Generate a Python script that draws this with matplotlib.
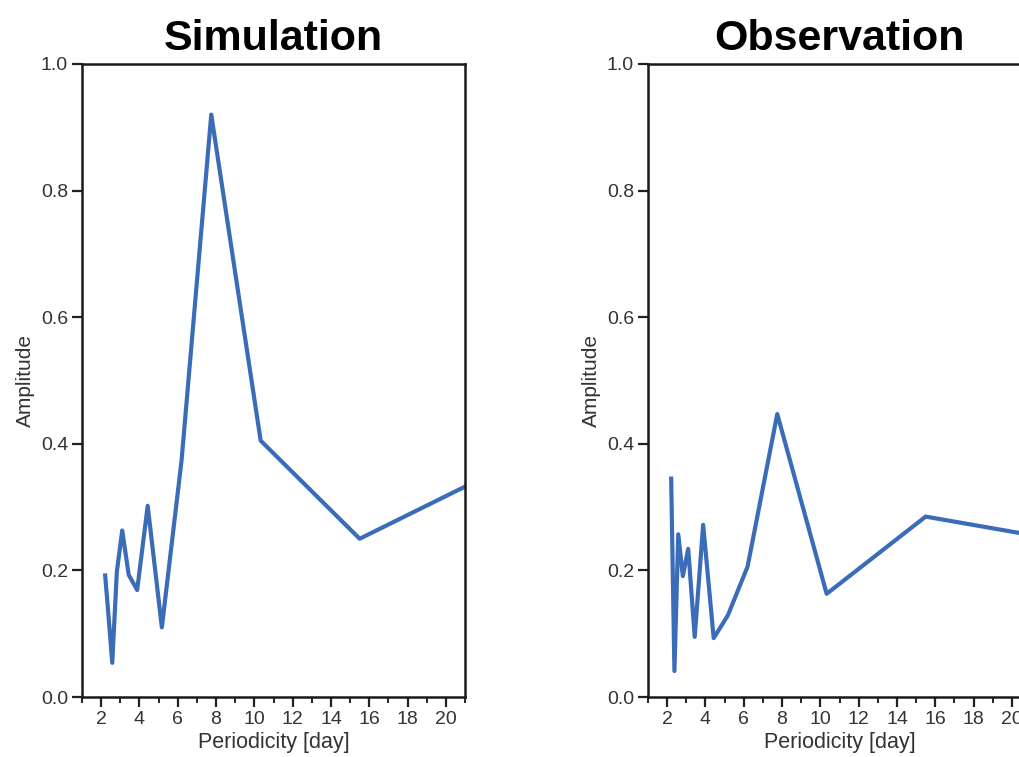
import matplotlib
matplotlib.use("Agg")
import matplotlib.pyplot as plt
from matplotlib.ticker import MultipleLocator, FormatStrFormatter

plt.rcParams["font.family"] = ["Liberation Sans", "DejaVu Sans"]

# periods of the spectral components [day]
periods = [2.21, 2.38, 2.58, 2.82, 3.1, 3.44, 3.88, 4.43, 5.17, 6.2, 7.75, 10.33, 15.5, 31.0]
sim_amp = [0.192, 0.13, 0.054, 0.198, 0.263, 0.193, 0.169, 0.302, 0.110, 0.374, 0.920, 0.405, 0.250, 0.482]
obs_amp = [0.345, 0.041, 0.257, 0.191, 0.234, 0.095, 0.272, 0.093, 0.129, 0.206, 0.447, 0.163, 0.285, 0.203]

titles = ["Simulation", "Observation"]
series = [sim_amp, obs_amp]

line_color = "#3b6cb7"

fig = plt.figure(figsize=(10.19, 7.57), dpi=100)
axes_left = [82 / 1019, 648 / 1019]

for left, title, amp in zip(axes_left, titles, series):
    ax = fig.add_axes([left, 60 / 757, 383 / 1019, 633 / 757])
    ax.plot(periods, amp, color=line_color, lw=3)
    ax.set_xlim(1, 21)
    ax.set_ylim(0, 1.0)
    ax.xaxis.set_major_locator(MultipleLocator(2))
    ax.xaxis.set_minor_locator(MultipleLocator(1))
    ax.yaxis.set_major_locator(MultipleLocator(0.2))
    ax.yaxis.set_major_formatter(FormatStrFormatter("%.1f"))
    ax.tick_params(axis="both", which="major", direction="out", length=7,
                   width=1.6, labelsize=14, color="#222222", labelcolor="#333333", pad=3)
    ax.tick_params(axis="x", which="minor", direction="out", length=4.5, width=1.4, color="#222222")
    ax.tick_params(top=False, right=False)
    for sp in ax.spines.values():
        sp.set_linewidth(1.8)
        sp.set_color("#1a1a1a")
    ax.set_xlabel("Periodicity [day]", fontsize=15.5, color="#333333", labelpad=3)
    ax.set_ylabel("Amplitude", fontsize=15, color="#333333", labelpad=4)
    ax.set_title(title, fontsize=31, fontweight="bold", pad=10)

fig.savefig("out.png", dpi=100)
